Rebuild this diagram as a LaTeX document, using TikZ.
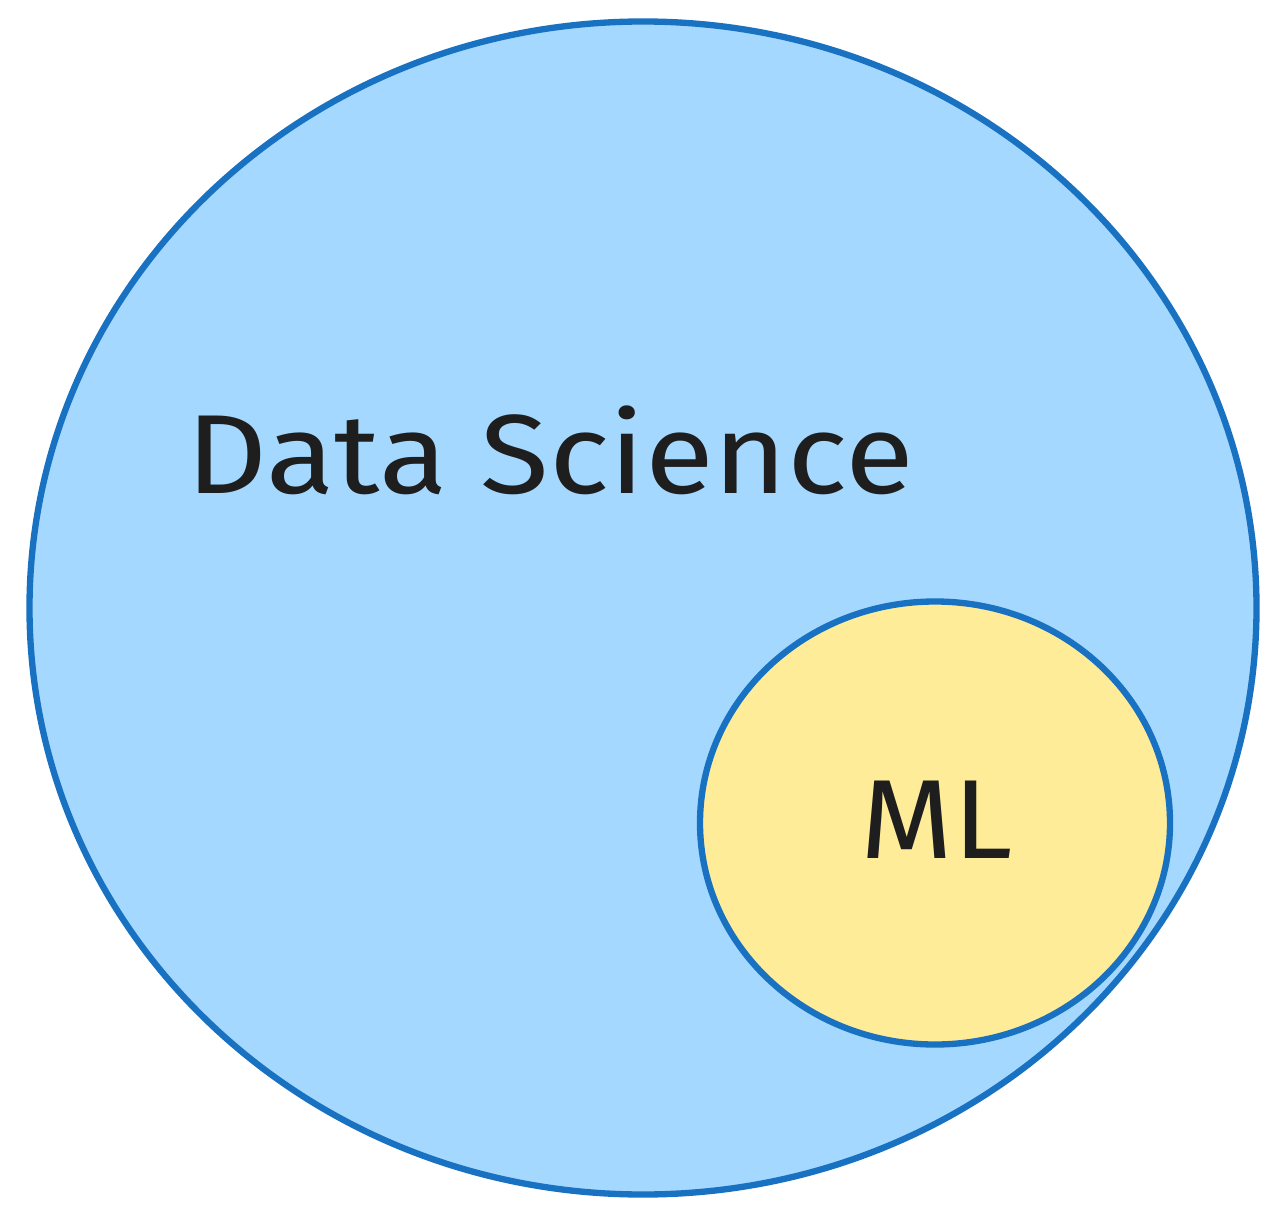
\documentclass[tikz,border=0pt]{standalone}
\usepackage{fontspec}
\setmainfont{Fira Sans}
\usetikzlibrary{shapes.geometric}
\definecolor{dsfill}{HTML}{A5D8FF}
\definecolor{dsline}{HTML}{1971C2}
\definecolor{mlfill}{HTML}{FFEC99}
\definecolor{ink}{HTML}{1E1E1E}
\tikzset{
  blob/.style={ellipse, draw=dsline, line width=3.6pt, inner sep=0pt},
  label/.style={text=ink, inner sep=0pt, font=\fontsize{64}{70}\selectfont}
}
\begin{document}
\begin{tikzpicture}[x=0.02cm,y=-0.02cm]
\useasboundingbox (0,0) rectangle (1287,1226);
\node[blob, fill=dsfill, minimum width=1227*0.02cm, minimum height=1173*0.02cm] (ds) at (643,608) {};
\node[blob, fill=mlfill, minimum width=470*0.02cm, minimum height=443*0.02cm] (ml) at (935,823) {};
\node[label] (dst) at (550,450) {\scalebox{1.12}[1]{Data Science}};
\node[label] (mlt) at (937,820) {\scalebox{1.06}[1]{ML}};
\end{tikzpicture}
\end{document}
